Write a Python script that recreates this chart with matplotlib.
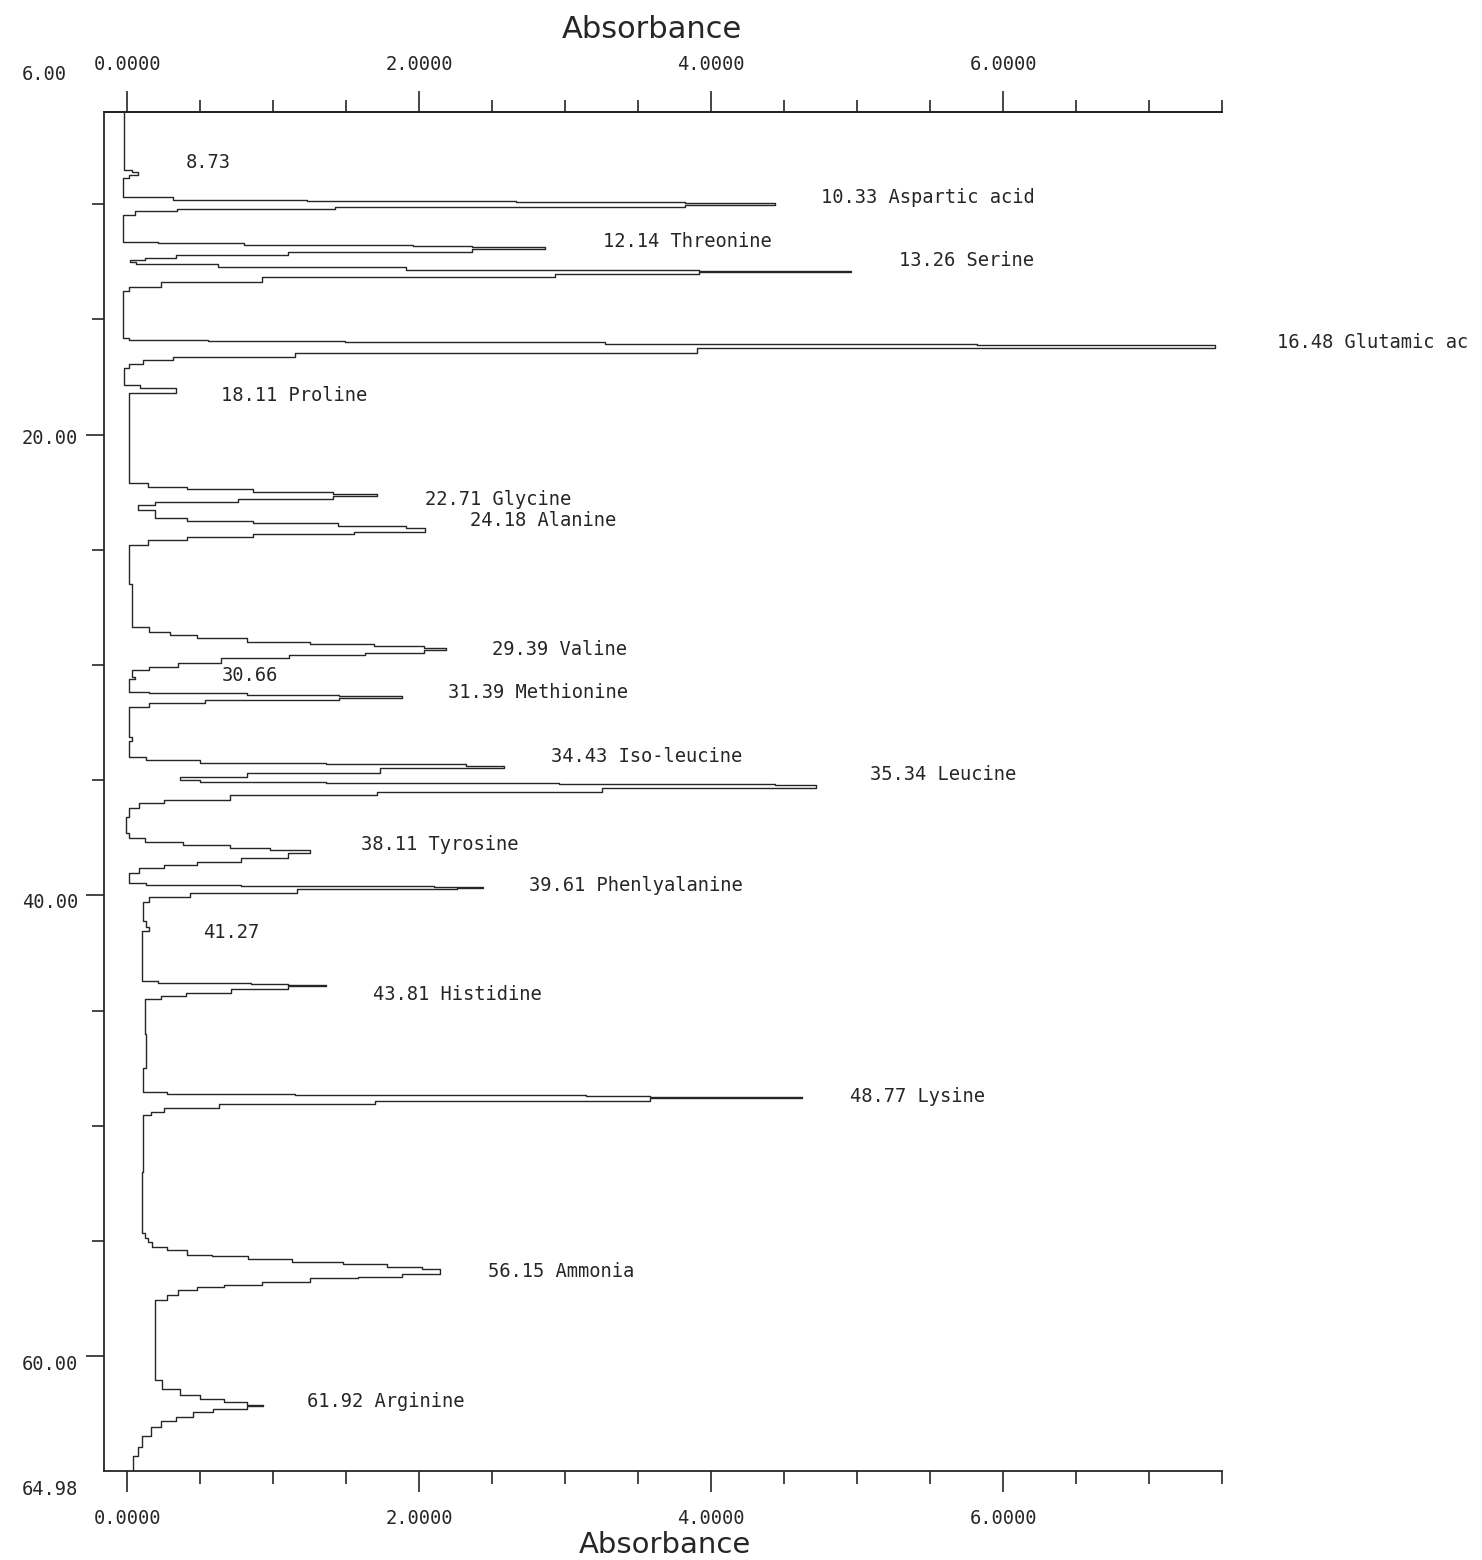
import matplotlib.pyplot as plt
import matplotlib.transforms as mtransforms
from matplotlib.ticker import FormatStrFormatter

# chromatogram trace: retention time (min) and absorbance
time_min = [
    6.00, 8.43, 8.50, 8.62, 8.75, 8.85, 9.60, 9.69, 9.82, 9.86, 9.90, 9.95,
    10.03, 10.12, 10.21, 10.30, 10.45, 11.55, 11.64, 11.68, 11.77, 11.82, 11.86,
    11.95, 12.07, 12.20, 12.33, 12.42, 12.50, 12.59, 12.72, 12.85, 12.90, 12.96,
    13.03, 13.16, 13.38, 13.59, 13.75, 15.70, 15.80, 15.88, 15.95, 16.00, 16.05,
    16.11, 16.25, 16.45, 16.62, 16.78, 16.95, 17.10, 17.70, 17.84, 17.97, 18.19,
    22.10, 22.27, 22.36, 22.49, 22.57, 22.68, 22.79, 22.92, 23.05, 23.27, 23.61,
    23.74, 23.83, 23.96, 24.05, 24.22, 24.31, 24.44, 24.57, 24.78, 26.50, 28.34,
    28.56, 28.69, 28.82, 28.99, 29.08, 29.17, 29.25, 29.35, 29.47, 29.56, 29.69,
    29.90, 30.08, 30.21, 30.50, 30.60, 31.16, 31.21, 31.29, 31.34, 31.42, 31.51,
    31.64, 31.81, 33.11, 33.30, 33.98, 34.11, 34.24, 34.29, 34.37, 34.46, 34.68,
    34.85, 34.98, 35.07, 35.11, 35.15, 35.20, 35.33, 35.50, 35.63, 35.85, 35.98,
    36.20, 36.60, 37.30, 37.50, 37.67, 37.80, 37.93, 38.02, 38.15, 38.36, 38.54,
    38.67, 38.80, 39.02, 39.45, 39.54, 39.58, 39.62, 39.66, 39.71, 39.88, 40.06,
    40.27, 41.10, 41.35, 41.55, 43.70, 43.79, 43.83, 43.87, 43.95, 44.05, 44.22,
    44.35, 44.48, 46.00, 47.50, 48.52, 48.60, 48.65, 48.69, 48.73, 48.80, 48.91,
    49.04, 49.21, 49.38, 49.51, 52.00, 54.63, 54.85, 55.02, 55.24, 55.37, 55.59,
    55.67, 55.80, 55.89, 55.98, 56.11, 56.20, 56.41, 56.54, 56.59, 56.76, 56.89,
    56.98, 57.11, 57.32, 57.54, 60.88, 61.01, 61.44, 61.66, 61.84, 61.97, 62.10,
    62.18, 62.27, 62.44, 62.62, 62.83, 63.05, 63.48, 63.92, 64.35, 64.98,
]
absorbance = [
    -0.02, -0.02, 0.03, 0.07, 0.01, -0.03, -0.03, 0.31, 1.23, 2.66, 3.82, 4.44,
    3.82, 1.42, 0.34, 0.05, -0.03, -0.03, 0.21, 0.80, 1.96, 2.36, 2.86,
    2.36, 1.10, 0.33, 0.12, 0.02, 0.06, 0.62, 1.91, 3.92, 4.96, 3.92,
    2.93, 0.92, 0.23, 0.01, -0.03, -0.03, 0.01, 0.55, 1.49, 3.27, 5.82,
    7.45, 3.90, 1.15, 0.31, 0.11, 0.01, -0.02, -0.02, 0.09, 0.33, 0.01,
    0.14, 0.41, 0.86, 1.41, 1.71, 1.41, 0.76, 0.19, 0.07, 0.19, 0.41,
    0.86, 1.44, 1.91, 2.04, 1.55, 0.86, 0.41, 0.14, 0.01, 0.03, 0.15,
    0.29, 0.48, 0.82, 1.25, 1.69, 2.03, 2.18, 2.03, 1.63, 1.11, 0.64,
    0.35, 0.15, 0.03, 0.05, 0.01, 0.15, 0.82, 1.45, 1.88, 1.45, 0.53,
    0.15, 0.01, 0.03, 0.01, 0.13, 0.50, 1.36, 2.32, 2.58, 1.73, 0.82,
    0.36, 0.50, 1.36, 2.96, 4.44, 4.72, 3.25, 1.71, 0.70, 0.25, 0.08,
    0.01, -0.01, 0.01, 0.12, 0.38, 0.70, 0.98, 1.25, 1.10, 0.78, 0.48,
    0.25, 0.08, 0.01, 0.13, 0.78, 2.10, 2.44, 2.26, 1.16, 0.43, 0.15,
    0.11, 0.13, 0.15, 0.10, 0.21, 0.85, 1.10, 1.36, 1.10, 0.71, 0.40,
    0.23, 0.12, 0.13, 0.11, 0.27, 1.15, 3.14, 3.58, 4.62, 3.58, 1.70,
    0.63, 0.25, 0.16, 0.11, 0.10, 0.12, 0.14, 0.17, 0.27, 0.41, 0.58,
    0.83, 1.13, 1.48, 1.78, 2.02, 2.14, 1.88, 1.58, 1.25, 0.92, 0.66,
    0.48, 0.35, 0.27, 0.19, 0.19, 0.24, 0.36, 0.50, 0.66, 0.82, 0.93,
    0.82, 0.59, 0.45, 0.33, 0.23, 0.16, 0.10, 0.07, 0.04, 0.04,
]

# peak annotations as printed (the glutamic acid one runs off the page)
peak_labels = [
    "8.73", "10.33 Aspartic acid", "12.14 Threonine", "13.26 Serine",
    "16.48 Glutamic ac", "18.11 Proline", "22.71 Glycine", "24.18 Alanine",
    "29.39 Valine", "30.66", "31.39 Methionine", "34.43 Iso-leucine",
    "35.34 Leucine", "38.11 Tyrosine", "39.61 Phenlyalanine", "41.27",
    "43.81 Histidine", "48.77 Lysine", "56.15 Ammonia", "61.92 Arginine",
]
time_ticks = [20, 40, 60]
time_labels = ["20.00", "40.00", "60.00"]
abs_ticks = [0, 2, 4, 6]

# where each annotation sits (absorbance, time)
label_pos = [
    (0.40, 8.21), (4.75, 9.69), (3.26, 11.64), (5.29, 12.46),
    (7.88, 16.02), (0.64, 18.32), (2.04, 22.83), (2.35, 23.74),
    (2.50, 29.34), (0.65, 30.47), (2.20, 31.21), (2.90, 33.98),
    (5.09, 34.76), (1.60, 37.80), (2.75, 39.58), (0.52, 41.62),
    (1.68, 44.31), (4.95, 48.73), (2.47, 56.33), (1.23, 61.97),
]

W, H = 1482, 1560
ink = "#262626"
mono = "DejaVu Sans Mono"
fs = 13.5

fig = plt.figure(figsize=(W / 100, H / 100), dpi=100)
ax = fig.add_axes([104 / W, 1 - 1471 / H, (1222 - 104) / W, (1471 - 112) / H])

ax.plot(absorbance, time_min, drawstyle="steps-pre", color=ink, lw=1.0)
ax.set_xlim(-0.16, 7.5)
ax.set_ylim(64.98, 6.0)

for s in ["top", "bottom", "left"]:
    ax.spines[s].set_linewidth(1.3)
    ax.spines[s].set_color(ink)
ax.spines["right"].set_visible(False)

minor_abs = [x * 0.5 for x in range(16) if x % 4 != 0]

# bottom absorbance axis
ax.set_xticks(abs_ticks)
ax.set_xticks(minor_abs, minor=True)
ax.xaxis.set_major_formatter(FormatStrFormatter("%.4f"))
ax.tick_params(axis="x", which="major", length=15, width=1.2, pad=12,
               labelsize=fs, colors=ink)
ax.tick_params(axis="x", which="minor", length=9, width=1.2, colors=ink)
for lab in ax.get_xticklabels():
    lab.set_family(mono)

# top absorbance axis
top = ax.secondary_xaxis("top")
top.set_xticks(abs_ticks)
top.set_xticks(minor_abs, minor=True)
top.xaxis.set_major_formatter(FormatStrFormatter("%.4f"))
top.tick_params(axis="x", which="major", length=15, width=1.2, pad=12,
                labelsize=fs, colors=ink)
top.tick_params(axis="x", which="minor", length=9, width=1.2, colors=ink)
top.spines["top"].set_linewidth(1.3)
for lab in top.get_xticklabels():
    lab.set_family(mono)

# time axis ticks, labels drawn by hand (left aligned like the printout)
ax.set_yticks(time_ticks)
ax.set_yticks([10, 15, 25, 30, 35, 45, 50, 55], minor=True)
ax.tick_params(axis="y", which="major", length=13, width=1.2, labelleft=False, colors=ink)
ax.tick_params(axis="y", which="minor", length=9, width=1.2, colors=ink)

trans = mtransforms.blended_transform_factory(fig.transFigure, ax.transData)
ylab_text = ["6.00"] + time_labels + ["64.98"]
ylab_t = [4.39, 20.15, 40.32, 60.36, 65.78]
for txt, t in zip(ylab_text, ylab_t):
    ax.text(22 / W, t, txt, transform=trans, ha="left", va="center",
            fontsize=fs, family=mono, color=ink, clip_on=False)

for txt, (x, t) in zip(peak_labels, label_pos):
    ax.text(x, t, txt, ha="left", va="center", fontsize=fs, family=mono,
            color=ink, clip_on=False)

fig.text(652 / W, 1 - 30 / H, "Absorbance", ha="center", va="center",
         fontsize=22, family="DejaVu Sans", color=ink)
fig.text(665 / W, 1 - 1545 / H, "Absorbance", ha="center", va="center",
         fontsize=21, family="DejaVu Sans", color=ink)

fig.savefig("out.png", dpi=100, facecolor="white")
